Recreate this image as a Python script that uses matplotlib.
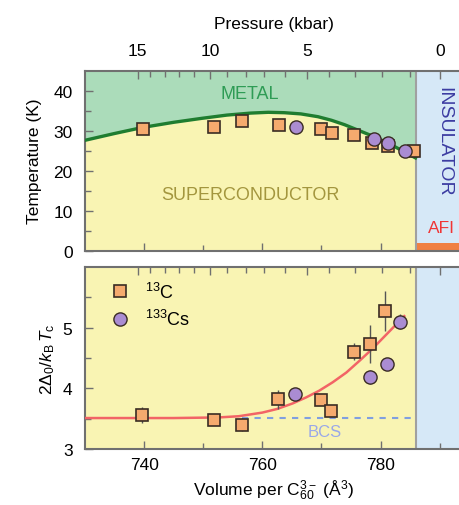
import numpy as np
import matplotlib
matplotlib.use('Agg')
import matplotlib.pyplot as plt

plt.rcParams['font.family'] = ['Liberation Sans', 'DejaVu Sans']
plt.rcParams['mathtext.fontset'] = 'custom'
plt.rcParams['mathtext.rm'] = 'Liberation Sans'
plt.rcParams['mathtext.it'] = 'Liberation Sans:italic'

# pressure scale (kbar) and matching volume (A^3)
pressure_kbar = [15, 14, 13, 12, 11, 10, 9, 8, 7, 6, 5, 4, 3, 2, 1, 0]
pressure_vol = [738.9, 741.0, 743.5, 745.9, 748.5, 751.2, 754.1, 757.2,
                760.3, 763.8, 767.5, 771.3, 775.6, 780.2, 784.9, 790.0]

# Tc data
tc_c13_vol = [739.8, 751.8, 756.6, 762.8, 770.0, 771.8, 775.5, 778.6, 781.2, 785.7]
tc_c13 = [30.4, 30.9, 32.3, 31.3, 30.4, 29.4, 28.9, 26.8, 26.2, 24.8]
tc_cs_vol = [765.7, 778.9, 781.2, 784.1]
tc_cs = [30.8, 27.9, 26.8, 24.8]

# Tc dome guide line
dome_vol = [730.0, 735.0, 739.7, 745.0, 749.8, 754.0, 758.0, 761.0, 763.7, 766.5,
            769.4, 771.7, 773.9, 775.9, 777.9, 779.9, 781.9, 783.9, 785.9]
dome_tc = [27.6, 29.3, 30.8, 32.1, 33.1, 33.9, 34.4, 34.6, 34.5, 34.2,
           33.5, 32.6, 31.5, 30.3, 29.1, 27.8, 26.4, 24.8, 23.2]

# gap ratio data
gap_c13_vol = [739.6, 751.9, 756.6, 762.7, 769.9, 771.6, 775.5, 778.2, 780.7]
gap_c13 = [3.56, 3.48, 3.40, 3.82, 3.81, 3.63, 4.60, 4.73, 5.27]
gap_c13_err = [0.13, 0.08, 0.11, 0.16, 0.05, 0.04, 0.14, 0.32, 0.33]
gap_cs_vol = [765.6, 778.2, 781.0, 783.2]
gap_cs = [3.90, 4.19, 4.40, 5.10]
gap_cs_err = [0.0, 0.12, 0.0, 0.12]

# gap ratio guide line
gap_fit_vol = [730.0, 745.0, 752.6, 756.0, 760.0, 762.5, 765.1, 767.4, 769.6,
               771.9, 774.2, 776.5, 778.7, 780.5, 782.2, 784.0]
gap_fit = [3.51, 3.51, 3.52, 3.54, 3.60, 3.66, 3.75, 3.85, 3.96,
           4.10, 4.26, 4.46, 4.66, 4.84, 5.01, 5.19]

bcs_value = 3.51
mit_vol = 786.0
xmin, xmax = 730, 793.8

c_green = '#abdcba'
c_yellow = '#f9f4b3'
c_blue = '#d6e8f7'
c_sq = '#f5aa6e'
c_ci = '#aa8cd2'
c_edge = '#3a2c24'
c_spine = '#707070'

fig = plt.figure(figsize=(4.6, 5.06), dpi=100)
ax1 = fig.add_axes([0.1848, 0.5026, 0.82, 0.3557])
ax2 = fig.add_axes([0.1848, 0.1107, 0.82, 0.3597])


def style_axes(ax):
    for s in ['left', 'bottom', 'top']:
        ax.spines[s].set_color(c_spine)
        ax.spines[s].set_linewidth(1.5)
    ax.spines['right'].set_visible(False)
    ax.tick_params(which='both', direction='in', color=c_spine, labelsize=12.5)
    ax.tick_params(axis='y', pad=9)
    ax.tick_params(axis='x', pad=6)
    ax.tick_params(which='major', length=6, width=1)
    ax.tick_params(which='minor', length=4, width=1)
    ax.set_xlim(xmin, xmax)
    ax.set_xticks([740, 760, 780])
    ax.set_xticks([750, 770, 790], minor=True)


def pressure_top(ax, labels):
    top = ax.twiny()
    top.set_xlim(xmin, xmax)
    for s in top.spines.values():
        s.set_visible(False)
    major = [v for p, v in zip(pressure_kbar, pressure_vol) if p % 5 == 0]
    minor = [v for p, v in zip(pressure_kbar, pressure_vol) if p % 5 != 0]
    top.set_xticks(major)
    top.set_xticks(minor, minor=True)
    top.tick_params(which='both', direction='in', color=c_spine, labelsize=12.5, pad=9)
    top.tick_params(which='major', length=6, width=1)
    top.tick_params(which='minor', length=4, width=1)
    if labels:
        top.set_xticklabels([str(p) for p in pressure_kbar if p % 5 == 0])
        top.set_xlabel('Pressure (kbar)', fontsize=12.5, labelpad=11)
    else:
        top.set_xticklabels([])
    return top


# ---- top panel: phase diagram ----
ax1.set_facecolor(c_yellow)
ax1.set_ylim(0, 45)
dv = np.array(dome_vol)
ax1.fill_between(dv, dome_tc, 45, color=c_green, lw=0, zorder=1)
ax1.axvspan(mit_vol, xmax, color=c_blue, lw=0, zorder=1)
ax1.fill_between([mit_vol, xmax], 0, 1.8, color='#f08042', lw=0, zorder=2)
ax1.axvline(mit_vol, color='#a0a0a0', lw=1.5, zorder=2)
ax1.plot(dome_vol, dome_tc, color='#1f7d30', lw=2.4, zorder=3, solid_joinstyle='round')
ax1.plot(tc_c13_vol, tc_c13, 's', ms=9, mfc=c_sq, mec=c_edge, mew=1.2, zorder=4)
ax1.plot(tc_cs_vol, tc_cs, 'o', ms=9.5, mfc=c_ci, mec=c_edge, mew=1.0, zorder=5)
style_axes(ax1)
ax1.set_xticklabels([])
ax1.set_yticks([0, 10, 20, 30, 40])
ax1.set_yticks([5, 15, 25, 35], minor=True)
ax1.set_ylabel('Temperature (K)', fontsize=12.5, labelpad=8)
ax1.text(757.9, 39.2, 'METAL', color='#2e9c55', fontsize=13, ha='center', va='center')
ax1.text(758, 14, 'SUPERCONDUCTOR', color='#a3963e', fontsize=13, ha='center', va='center')
ax1.text(790.7, 27.5, 'INSULATOR', color='#3c3ca2', fontsize=14, ha='center', va='center',
         rotation=-90)
ax1.text(790.3, 5.8, 'AFI', color='#f03535', fontsize=12.5, ha='center', va='center')
pressure_top(ax1, True)

# ---- bottom panel: gap ratio ----
ax2.set_facecolor(c_yellow)
ax2.set_ylim(3, 6)
ax2.axvspan(mit_vol, xmax, color=c_blue, lw=0, zorder=1)
ax2.axvline(mit_vol, color='#a0a0a0', lw=1.5, zorder=2)
ax2.plot([756.6, 785.3], [bcs_value, bcs_value], color='#809fe0', lw=1.5,
         ls=(0, (3, 3)), zorder=2)
ax2.text(770.5, 3.28, 'BCS', color='#9aa8e8', fontsize=12, ha='center', va='center')
ax2.plot(gap_fit_vol, gap_fit, color='#f26466', lw=1.8, zorder=3, solid_joinstyle='round')
ax2.errorbar(gap_c13_vol, gap_c13, yerr=gap_c13_err, fmt='none', ecolor='#555555',
             elinewidth=1, zorder=3)
ax2.errorbar(gap_cs_vol, gap_cs, yerr=gap_cs_err, fmt='none', ecolor='#555555',
             elinewidth=1, zorder=3)
ax2.plot(gap_c13_vol, gap_c13, 's', ms=9, mfc=c_sq, mec=c_edge, mew=1.2, zorder=4,
         label=r'$^{13}$C')
ax2.plot(gap_cs_vol, gap_cs, 'o', ms=9.5, mfc=c_ci, mec=c_edge, mew=1.0, zorder=5,
         label=r'$^{133}$Cs')
style_axes(ax2)
ax2.set_yticks([3, 4, 5])
ax2.set_yticks([3.5, 4.5, 5.5], minor=True)
ax2.set_ylabel(r'2$\Delta_0$/$k_\mathrm{B}\,T_\mathrm{c}$', fontsize=12.5, labelpad=4)
ax2.set_xlabel(r'Volume per C$_{60}^{3-}$ ($\mathrm{\AA}^3$)', fontsize=12.5, labelpad=4)
ax2.legend(loc='upper left', bbox_to_anchor=(0.05, 0.96), frameon=False, fontsize=13,
           handletextpad=0.9, labelspacing=0.4, handlelength=1.0, borderaxespad=0)
pressure_top(ax2, False)

fig.savefig('out.png', dpi=100)
